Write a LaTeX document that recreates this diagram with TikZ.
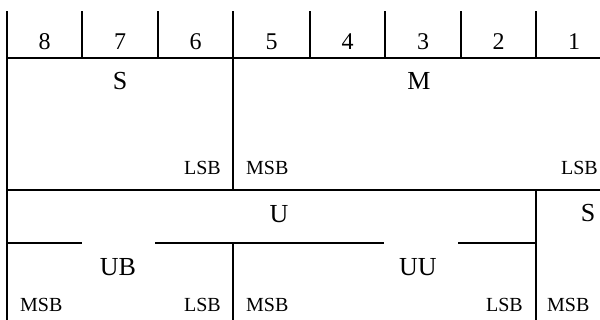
\documentclass[tikz,border=0pt]{standalone}
\usepackage{fontspec}
\setmainfont{Liberation Serif}
\begin{document}
\begin{tikzpicture}[x=1pt,y=-1pt,
  rule/.style={line width=1.9pt,line cap=rect},
  digit/.style={anchor=base,inner sep=0pt,font=\fontsize{24}{28}\selectfont},
  big/.style={anchor=base,inner sep=0pt,font=\fontsize{26}{30}\selectfont},
  bit/.style={inner sep=0pt,font=\fontsize{20}{24}\selectfont}]
\useasboundingbox (0,0) rectangle (600,320);
% top row
\draw[rule] (7,12) -- (7,320);
\foreach \x in {82,158,233,310,385,461,536} \draw[rule] (\x,12) -- (\x,58);
\draw[rule] (7,58) -- (600,58);
\foreach \x/\d [count=\i] in {44.5/8,120/7,195.5/6,271.5/5,347.5/4,423/3,498.5/2,574/1}
  \node[digit] (d\i) at (\x,50) {\d};
% S / M row
\draw[rule] (233,58) -- (233,190);
\draw[rule] (7,190) -- (600,190);
\node[big] (s1) at (120,90) {S};
\node[big] (m1) at (419,90) {M};
\node[bit,anchor=base east] (l1) at (221,175) {LSB};
\node[bit,anchor=base west] (m2) at (246,175) {MSB};
\node[bit,anchor=base east] (l2) at (598,175) {LSB};
% U / S row
\draw[rule] (536,190) -- (536,320);
\node[big] (u1) at (279,223) {U};
\node[big] (s2) at (588,222) {S};
% UB / UU row
\draw[rule] (7,243) -- (81,243);
\draw[rule] (156,243) -- (383,243);
\draw[rule] (459,243) -- (536,243);
\draw[rule] (233,243) -- (233,320);
\node[big] (ub) at (118,276) {UB};
\node[big] (uu) at (418,276) {UU};
\node[bit,anchor=base west] (m3) at (20,312) {MSB};
\node[bit,anchor=base east] (l3) at (221,312) {LSB};
\node[bit,anchor=base west] (m4) at (246,312) {MSB};
\node[bit,anchor=base east] (l4) at (523,312) {LSB};
\node[bit,anchor=base west] (m5) at (547,312) {MSB};
\end{tikzpicture}
\end{document}
